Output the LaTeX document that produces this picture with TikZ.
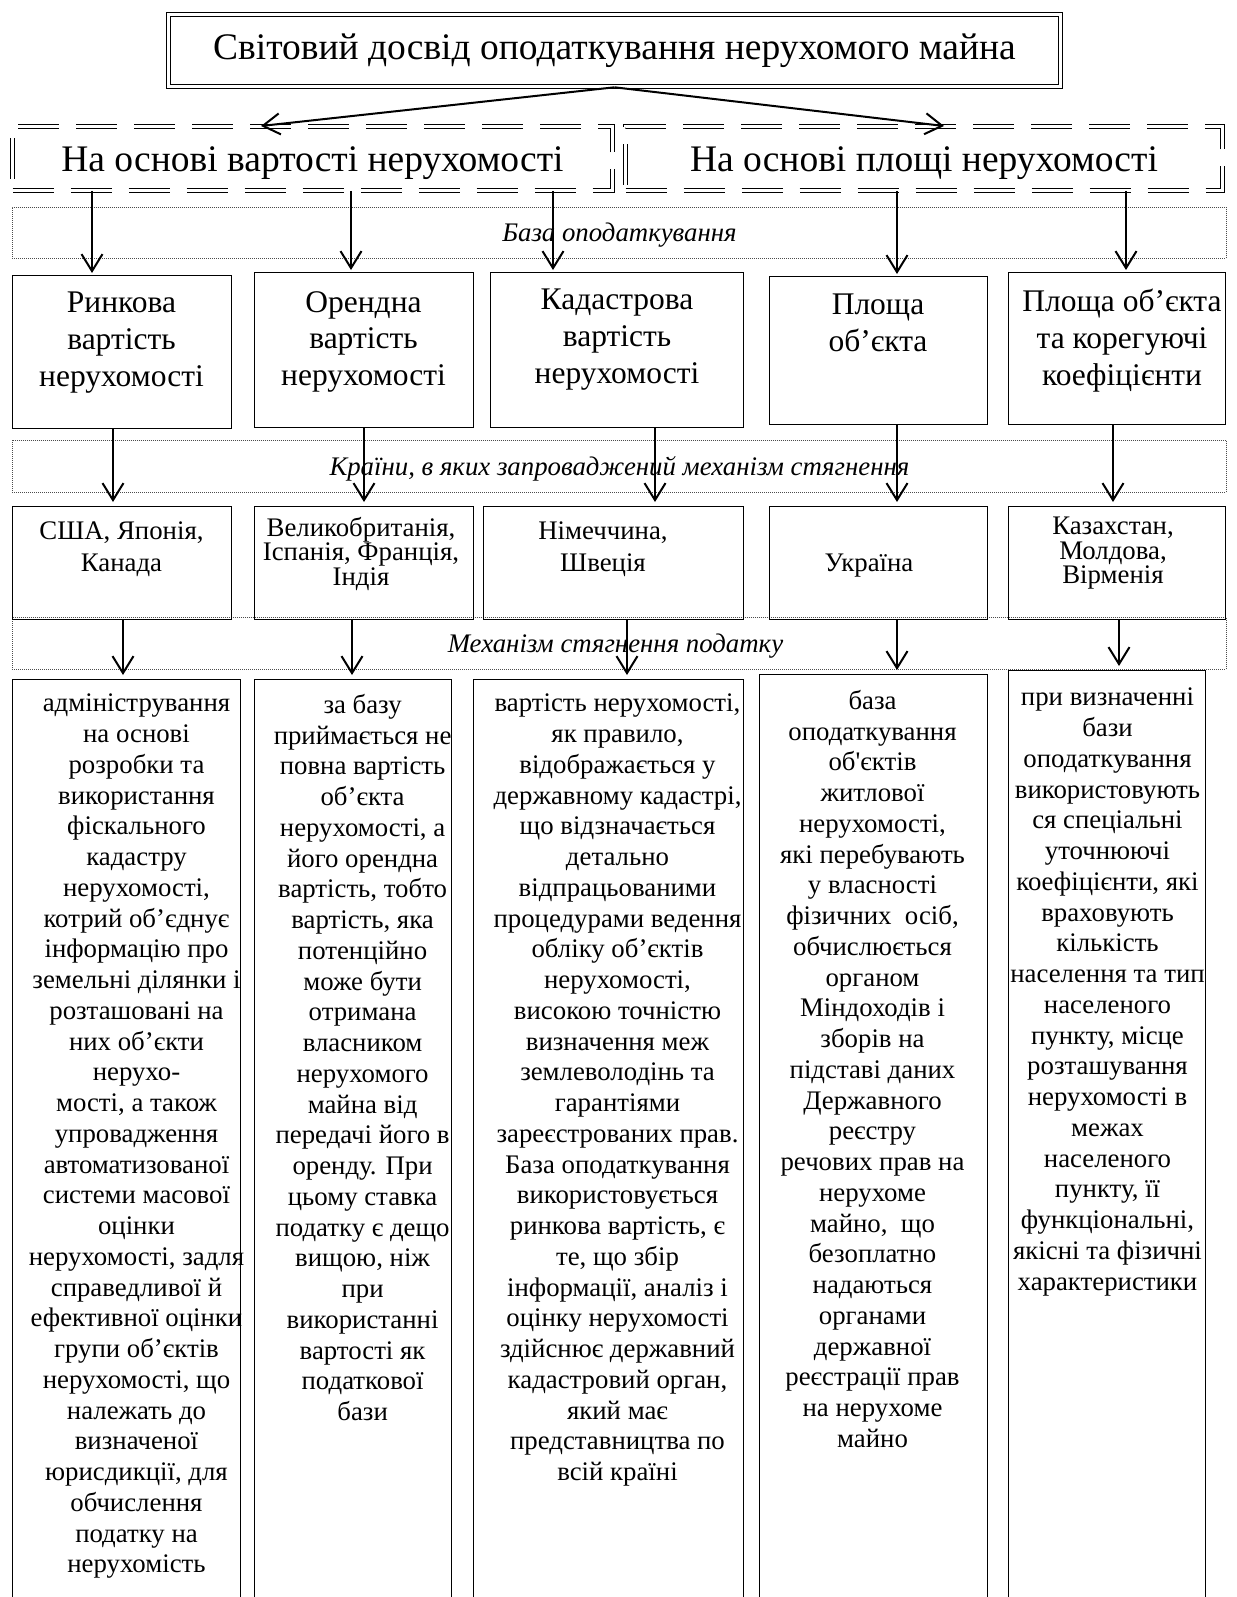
\documentclass[tikz,border=0pt]{standalone}
\usepackage{fontspec}
\setmainfont{Liberation Serif}
\usetikzlibrary{arrows.meta,positioning}

\begin{document}
\begin{tikzpicture}[x=1pt, y=-1pt,
    >={Straight Barb[length=17pt,width=21pt]},
    box/.style={draw, line width=1.2pt, inner sep=0pt, anchor=north west},
    twin/.style={draw, double, line width=1pt, double distance=3pt, inner sep=0pt},
    twindash/.style={twin, dash pattern=on 41pt off 17pt},
    band/.style={draw=black!70, line width=0.9pt, dash pattern=on 1pt off 1pt, inner sep=0pt, anchor=north west, minimum width=1214pt},
    bandlabel/.style={inner sep=0pt, text height=18pt, text depth=0pt, font=\fontsize{26.8}{30}\itshape\selectfont},
    rowone/.style={align=center, inner sep=0pt, anchor=north, font=\fontsize{31.5}{36.7}\selectfont},
    rowtwo/.style={align=center, inner sep=0pt, anchor=north, font=\fontsize{26.8}{31.7}\selectfont},
    rowtight/.style={rowtwo, font=\fontsize{26.8}{24.4}\selectfont},
    desc/.style={align=center, inner sep=0pt, anchor=north, font=\fontsize{26.8}{30.75}\selectfont},
    link/.style={->, line width=2pt},
    feed/.style={link, shorten >=4pt}]

    \useasboundingbox (0,0) rectangle (1236,1597);
    \clip (0,0) rectangle (1236,1597);

    % Bands
    \node[band, minimum height=51pt] (baseband) at (12,207) {};
    \node[band, minimum height=52pt] (countryband) at (12,440) {};
    \node[band, minimum height=52pt] (mechband) at (12,617) {};
    \node[bandlabel] (basetxt) at (baseband.center) {База оподаткування};
    \node[bandlabel] (countrytxt) at (countryband.center) {Країни, в яких запроваджений механізм стягнення};
    \node[bandlabel] (mechtxt) at ([xshift=-4pt]mechband.center) {Механізм стягнення податку};

    % Title and the two approaches
    \node[twin, minimum width=892pt, minimum height=72.6pt, text height=19pt, text depth=0pt,
          font=\fontsize{37.5}{44}\selectfont] (title) at (614.5,50.5)
          {Світовий досвід оподаткування нерухомого майна};
    \node[twindash, minimum width=600pt, minimum height=64pt, text height=26.4pt, text depth=0pt,
          font=\fontsize{37.5}{44}\selectfont] (bycost) at (312.5,158.5)
          {На основі вартості нерухомості};
    \node[twindash, minimum width=597pt, minimum height=64pt, text height=26.4pt, text depth=0pt,
          font=\fontsize{37.5}{44}\selectfont] (byarea) at (924,158.5)
          {На основі площі нерухомості};

    % Tax bases
    \node[box, minimum width=219pt, minimum height=153pt] (market) at (12,275) {};
    \node[box, minimum width=219pt, minimum height=155pt] (rent) at (254,272) {};
    \node[box, minimum width=253pt, minimum height=155pt] (cadastre) at (490,272) {};
    \node[box, minimum width=218pt, minimum height=148pt] (area) at (769,276) {};
    \node[box, minimum width=217pt, minimum height=152pt] (areacoef) at (1008,272) {};
    \node[rowone] (markettxt) at (121.5,292) {Ринкова\\вартість\\нерухомості};
    \node[rowone] (renttxt) at (363.5,291) {Орендна\\вартість\\нерухомості};
    \node[rowone] (cadastretxt) at (617,289) {Кадастрова\\вартість\\нерухомості};
    \node[rowone] (areatxt) at (878,294) {Площа\\об’єкта};
    \node[rowone] (areacoeftxt) at (1122,289) {Площа об’єкта\\та корегуючі\\коефіцієнти};

    % Countries
    \node[box, minimum width=219pt, minimum height=113pt] (usa) at (12,506) {};
    \node[box, minimum width=219pt, minimum height=113pt] (uk) at (254,506) {};
    \node[box, minimum width=260pt, minimum height=113pt] (germany) at (483,506) {};
    \node[box, minimum width=218pt, minimum height=113pt] (ukraine) at (769,506) {};
    \node[box, minimum width=217pt, minimum height=113pt] (kazakh) at (1008,506) {};
    \node[rowtwo] (usatxt) at (121.5,522) {США, Японія,\\Канада};
    \node[rowtight] (uktxt) at (361,517) {Великобританія,\\Іспанія, Франція,\\Індія};
    \node[rowtwo] (germanytxt) at (603,522) {Німеччина,\\Швеція};
    \node[rowtwo] (ukrainetxt) at (869,554) {Україна};
    \node[rowtight] (kazakhtxt) at (1113,517) {Казахстан,\\Молдова,\\Вірменія};

    % Collection mechanisms
    \node[box, minimum width=228pt, minimum height=940pt] (mechmarket) at (12,679) {};
    \node[box, minimum width=197pt, minimum height=940pt] (mechrent) at (254,679) {};
    \node[box, minimum width=270pt, minimum height=940pt] (mechcad) at (473,679) {};
    \node[box, minimum width=228pt, minimum height=945pt] (mecharea) at (759,674) {};
    \node[box, minimum width=197pt, minimum height=950pt] (mechcoef) at (1008,670) {};

    \node[desc] (mechmarkettxt) at (136.5,694) {адміністрування\\на основі\\розробки та\\використання\\фіскального\\кадастру\\нерухомості,\\котрий об’єднує\\інформацію про\\земельні ділянки і\\розташовані на\\них об’єкти\\нерухо-\\мості, а також\\упровадження\\автоматизованої\\системи масової\\оцінки\\нерухомості, задля\\справедливої й\\ефективної оцінки\\групи об’єктів\\нерухомості, що\\належать до\\визначеної\\юрисдикції, для\\обчислення\\податку на\\нерухомість};
    \node[desc] (mechrenttxt) at (362.6,694) {за базу\\приймається не\\повна вартість\\об’єкта\\нерухомості, а\\його орендна\\вартість, тобто\\вартість, яка\\потенційно\\може бути\\отримана\\власником\\нерухомого\\майна від\\передачі його в\\оренду. При\\цьому ставка\\податку є дещо\\вищою, ніж\\при\\використанні\\вартості як\\податкової\\бази};
    \node[desc] (mechcadtxt) at (617.5,694) {вартість нерухомості,\\як правило,\\відображається у\\державному кадастрі,\\що відзначається\\детально\\відпрацьованими\\процедурами ведення\\обліку об’єктів\\нерухомості,\\високою точністю\\визначення меж\\землеволодінь та\\гарантіями\\зареєстрованих прав.\\База оподаткування\\використовується\\ринкова вартість, є\\те, що збір\\інформації, аналіз і\\оцінку нерухомості\\здійснює державний\\кадастровий орган,\\який має\\представництва по\\всій країні};
    \node[desc] (mechareatxt) at (872.5,690) {база\\оподаткування\\об\textquotesingle єктів\\житлової\\нерухомості,\\які перебувають\\у власності\\фізичних\ \ осіб,\\обчислюється\\органом\\Міндоходів і\\зборів на\\підставі даних\\Державного\\реєстру\\речових прав на\\нерухоме\\майно,\ \ що\\безоплатно\\надаються\\органами\\державної\\реєстрації прав\\на нерухоме\\майно};
    \node[desc] (mechcoeftxt) at (1107.5,688) {при визначенні\\бази\\оподаткування\\використовують\\ся спеціальні\\уточнюючі\\коефіцієнти, які\\враховують\\кількість\\населення та тип\\населеного\\пункту, місце\\розташування\\нерухомості в\\межах\\населеного\\пункту, її\\функціональні,\\якісні та фізичні\\характеристики};

    % Arrows
    \draw[link] (title.south) -- (261,0 |- bycost.north);
    \draw[link] (title.south) -- (944,0 |- byarea.north);

    \draw[link, shorten >=2pt] (92,0 |- bycost.south) -- (92,0 |- market.north);
    \draw[link, shorten >=2pt] (351,0 |- bycost.south) -- (351,0 |- rent.north);
    \draw[link, shorten >=2pt] (553,0 |- bycost.south) -- (553,0 |- cadastre.north);
    \draw[link, shorten >=2pt] (897,0 |- byarea.south) -- (897,0 |- area.north);
    \draw[link, shorten >=2pt] (1126,0 |- byarea.south) -- (1126,0 |- areacoef.north);

    \draw[feed] (113,0 |- market.south) -- (113,0 |- usa.north);
    \draw[feed] (364,0 |- rent.south) -- (364,0 |- uk.north);
    \draw[feed] (655,0 |- cadastre.south) -- (655,0 |- germany.north);
    \draw[feed] (897,0 |- area.south) -- (897,0 |- ukraine.north);
    \draw[feed] (1113,0 |- areacoef.south) -- (1113,0 |- kazakh.north);

    \draw[feed] (123,0 |- usa.south) -- (123,0 |- mechmarket.north);
    \draw[feed] (352,0 |- uk.south) -- (352,0 |- mechrent.north);
    \draw[feed] (627,0 |- germany.south) -- (627,0 |- mechcad.north);
    \draw[feed] (897,0 |- ukraine.south) -- (897,0 |- mecharea.north);
    \draw[feed] (1119,0 |- kazakh.south) -- (1119,0 |- mechcoef.north);
\end{tikzpicture}
\end{document}
